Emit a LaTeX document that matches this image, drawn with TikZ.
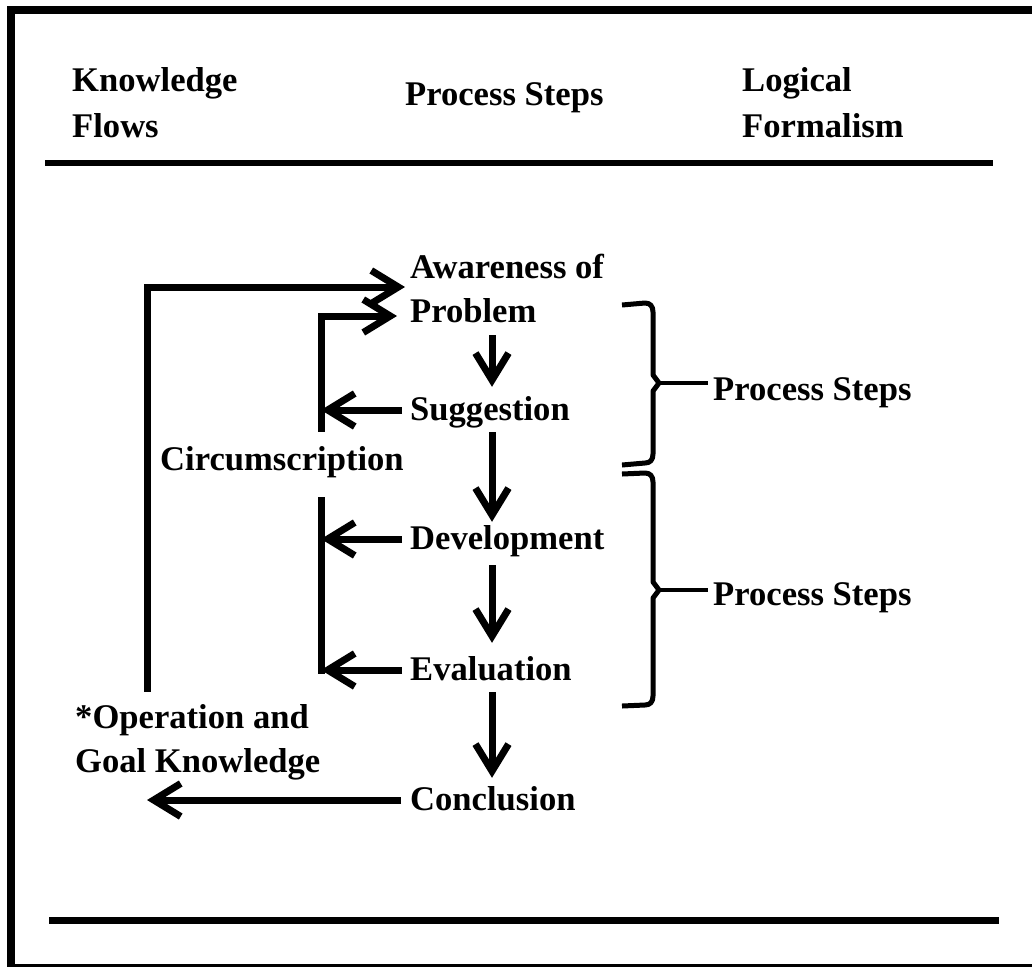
\documentclass[tikz,border=0pt]{standalone}
\usepackage{fontspec}
\setmainfont{Liberation Serif}
\usetikzlibrary{arrows.meta,calc}
\begin{document}
\begin{tikzpicture}[x=1pt,y=-1pt,
  lbl/.style={anchor=base west, inner sep=0pt, text height=24pt, text depth=4pt,
              font=\fontsize{34.6}{40}\selectfont\bfseries},
  flow/.style={line width=7pt, -{Straight Barb[length=27pt,width=33pt]}, line join=miter},
  bar/.style={line width=7pt},
  brace/.style={line width=5pt, line join=round},
  nub/.style={line width=4.5pt}]
\useasboundingbox (0,0) rectangle (1032,967);

% frame
\fill (7,6) rectangle (1032,14);
\fill (7,6) rectangle (15,967);
\fill (7,964) rectangle (1032,967);

% horizontal rules
\draw[line width=6pt] (45,163) -- (993,163);
\draw[line width=7pt] (49,920) -- (999,920);

% column headings
\node[lbl] (kf1) at (72,91)  {Knowledge};
\node[lbl] (kf2) at (72,137) {Flows};
\node[lbl] (ph)  at (405,105) {Process Steps};
\node[lbl] (lf1) at (742,91)  {Logical};
\node[lbl] (lf2) at (742,137) {Formalism};

% process steps
\node[lbl] (aw1) at (410,278) {Awareness of};
\node[lbl] (aw2) at (410,322) {Problem};
\node[lbl] (sug) at (410,420) {Suggestion};
\node[lbl] (dev) at (410,549) {Development};
\node[lbl] (eva) at (410,680) {Evaluation};
\node[lbl] (con) at (410,810) {Conclusion};

% knowledge flows
\node[lbl] (cir) at (160,470) {Circumscription};
\node[lbl] (op1) at (75,728) {*Operation and};
\node[lbl] (op2) at (75,772) {Goal Knowledge};

% logical formalism
\node[lbl] (ps1) at (713,400) {Process Steps};
\node[lbl] (ps2) at (713,605) {Process Steps};

% columns of the connectors
\coordinate (mx) at (492,0);
\coordinate (cx) at (321,0);
\coordinate (ox) at (147,0);

% main chain of steps
\draw[flow] ($(aw2.south -| mx)+(0,9)$) -- ($(sug.north -| mx)+(0,-9)$);
\draw[flow] ($(sug.south -| mx)+(0,8)$) -- ($(dev.north -| mx)+(0,-3)$);
\draw[flow] ($(dev.south -| mx)+(0,12)$) -- ($(eva.north -| mx)+(0,-13)$);
\draw[flow] ($(eva.south -| mx)+(0,8)$) -- ($(con.north -| mx)+(0,-8)$);

% circumscription loop
\draw[flow] ($(cir.north -| cx)+(0,-14)$) |- ($(aw2.west)+(-13,4)$);
\draw[flow] ($(sug.west)+(-8,0)$) -- (sug.west -| cx);
\draw[bar] ($(cir.south -| cx)+(0,23)$) -- ($(eva.west -| cx)+(0,3.5)$);
\draw[flow] ($(dev.west)+(-8,0)$) -- (dev.west -| cx);
\draw[flow] ($(eva.west)+(-8,0)$) -- (eva.west -| cx);

% operation and goal knowledge loop
\draw[flow] ($(op1.north -| ox)+(0,-12)$) |- ($(aw1.west)+(-5,19)$);
\draw[flow] ($(con.west)+(-9,0)$) -- (con.west -| ox);

% braces grouping the steps
\coordinate (b1) at (659,383);
\coordinate (b2) at (659,590);
\draw[brace] (622,305) -- (645,303) .. controls (650,303) and (653,306) .. (653,312)
  -- (653,375) -- (b1) -- (653,391) -- (653,454)
  .. controls (653,460) and (650,463) .. (645,463) -- (622,465);
\draw[nub] (b1) -- ($(ps1.west |- b1)+(-5,0)$);
\draw[brace] (622,474) -- (645,473) .. controls (650,473) and (653,476) .. (653,482)
  -- (653,582) -- (b2) -- (653,598) -- (653,696)
  .. controls (653,702) and (650,705) .. (645,705) -- (622,706);
\draw[nub] (b2) -- ($(ps2.west |- b2)+(-5,0)$);
\end{tikzpicture}
\end{document}
